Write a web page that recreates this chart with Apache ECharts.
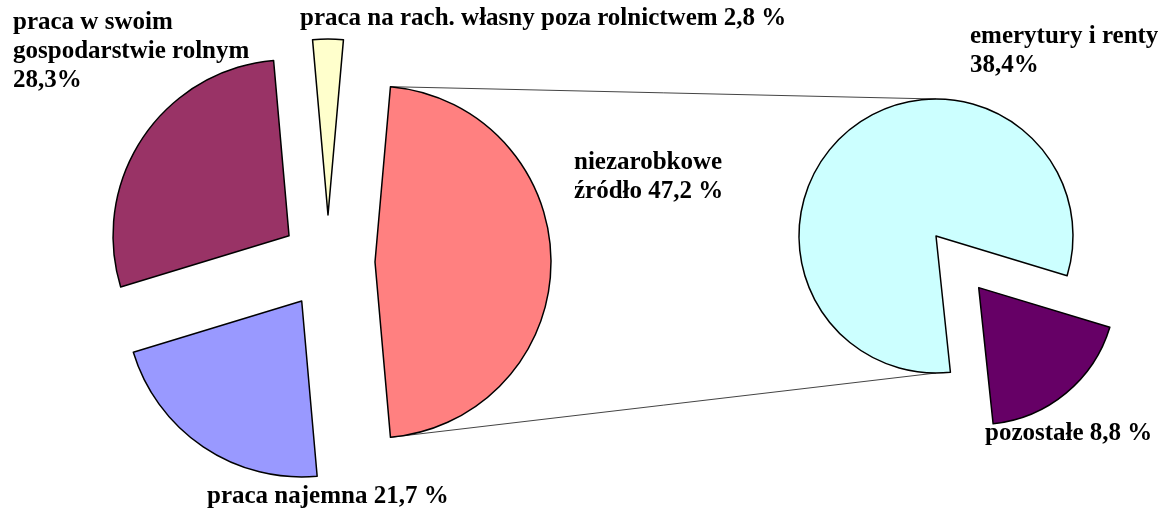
<!DOCTYPE html>
<html>
<head>
<meta charset="utf-8">
<script src="https://cdn.jsdelivr.net/npm/echarts@6/dist/echarts.min.js"></script>
<style>
html,body{margin:0;padding:0;background:#fff;}
#chart{width:1168px;height:510px;}
</style>
</head>
<body>
<div id="chart"></div>
<script>
// ---- data ----
const leftNames = ['niezarobkowe źródło', 'praca najemna', 'praca w swoim gospodarstwie rolnym', 'praca na rach. własny poza rolnictwem'];
const leftValues = [47.2, 21.7, 28.3, 2.8];
const leftLabels = ['niezarobkowe\nźródło 47,2 %', 'praca najemna 21,7 %', 'praca w swoim\ngospodarstwie rolnym\n28,3%', 'praca na rach. własny poza rolnictwem 2,8 %'];
const rightNames = ['emerytury i renty', 'pozostałe'];
const rightValues = [38.4, 8.8];
const rightLabels = ['emerytury i renty\n38,4%', 'pozostałe 8,8 %'];

// ---- layout / style ----
const leftColors = ['#FF8080', '#9999FF', '#993366', '#FFFFCC'];
const rightColors = ['#CCFFFF', '#660066'];
const L = { cx: 328, cy: 262, r: 176, off: 47 };
const R = { cx: 936, cy: 236, r: 137, off: 67 };
const LH = 29;
// first-line centre of each label block
const leftLabelPos = [
  { x: 574, y: 163 }, { x: 207, y: 497 }, { x: 13, y: 23 }, { x: 300, y: 19 }
];
const rightLabelPos = [ { x: 970, y: 37 }, { x: 985, y: 434 } ];

const leftSum = leftValues.reduce((a, b) => a + b, 0);
const rightSum = rightValues.reduce((a, b) => a + b, 0);
const leftStart = leftValues[0] / leftSum * 180;           // split slice centred on the right
const purpleSpan = rightValues[1] / rightSum * 360;
const purpleMid = -50.4;
const rightStart = purpleMid - purpleSpan / 2 + 360;       // cyan starts where purple ends

const FONT = 'bold 25px "Liberation Serif", "DejaVu Serif", serif';

function buildData(names, values, colors, selectedIdx) {
  return names.map((n, i) => ({
    name: n, value: values[i],
    selected: selectedIdx.indexOf(i) >= 0,
    itemStyle: { color: colors[i] }
  }));
}

function labelGraphics(labels, pos) {
  return labels.map((t, i) => ({
    type: 'text', z: 10,
    style: {
      text: t, x: pos[i].x, y: pos[i].y - LH / 2,
      font: FONT, lineHeight: LH, fill: '#000',
      textAlign: 'left', textVerticalAlign: 'top'
    }
  }));
}

const chart = echarts.init(document.getElementById('chart'), null, { renderer: 'canvas' });

const ang = leftStart * Math.PI / 180;
const lx = L.cx + L.off + L.r * Math.cos(ang);
const topY = L.cy - L.r * Math.sin(ang);
const botY = L.cy + L.r * Math.sin(ang);

const pieCommon = {
  type: 'pie', clockwise: true, selectedMode: 'multiple',
  itemStyle: { borderColor: '#000', borderWidth: 1.5 },
  label: { show: false }, labelLine: { show: false },
  emphasis: { disabled: true },
  select: { itemStyle: { borderColor: '#000', borderWidth: 1.5 } }
};

chart.setOption({
  animation: false,
  backgroundColor: '#fff',
  series: [
    Object.assign({}, pieCommon, {
      center: [L.cx, L.cy], radius: L.r, startAngle: leftStart, selectedOffset: L.off,
      data: buildData(leftNames, leftValues, leftColors, [0, 1, 2, 3])
    }),
    Object.assign({}, pieCommon, {
      center: [R.cx, R.cy], radius: R.r, startAngle: rightStart, selectedOffset: R.off,
      data: buildData(rightNames, rightValues, rightColors, [1])
    })
  ],
  graphic: [
    { type: 'line', z: -1, shape: { x1: lx, y1: topY, x2: R.cx, y2: R.cy - R.r }, style: { stroke: '#444', lineWidth: 1 } },
    { type: 'line', z: -1, shape: { x1: lx, y1: botY, x2: R.cx, y2: R.cy + R.r }, style: { stroke: '#444', lineWidth: 1 } }
  ].concat(labelGraphics(leftLabels, leftLabelPos), labelGraphics(rightLabels, rightLabelPos))
});
</script>
</body>
</html>
